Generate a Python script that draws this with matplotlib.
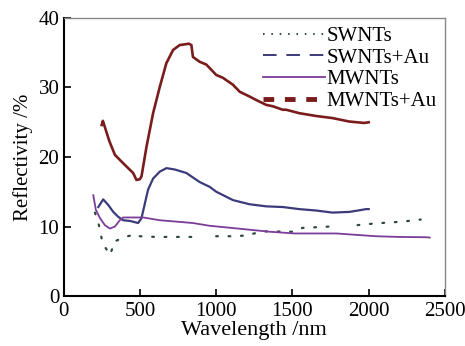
import numpy as np
from matplotlib import pyplot as plt
from matplotlib.lines import Line2D

plt.rcParams['font.family'] = ['Liberation Serif', 'DejaVu Serif']

# valores (nm, %)
mw_au_x = [250, 258, 300, 337, 391, 456, 478, 500, 511, 544, 587, 631, 674, 718, 761,
           822, 838, 848, 892, 936, 1001, 1044, 1110, 1154, 1219, 1263, 1328, 1371, 1437,
           1459, 1546, 1655, 1763, 1873, 1970, 2000]
mw_au_y = [24.6, 25.2, 22.3, 20.3, 19.1, 17.7, 16.7, 16.8, 17.2, 21.5, 26.3, 30.1, 33.5,
           35.4, 36.1, 36.3, 36.1, 34.4, 33.7, 33.3, 31.8, 31.4, 30.4, 29.4, 28.7, 28.2,
           27.5, 27.3, 26.8, 26.8, 26.3, 25.9, 25.6, 25.1, 24.9, 25.0]

sw_au_x = [228, 260, 293, 326, 358, 391, 435, 489, 511, 533, 554, 587, 631, 675, 729, 805,
           892, 958, 1001, 1110, 1219, 1328, 1437, 1546, 1655, 1763, 1873, 1930, 1982, 2000]
sw_au_y = [12.8, 13.9, 13.1, 12.1, 11.4, 10.9, 10.8, 10.5, 11.2, 13.3, 15.3, 16.9, 17.9,
           18.4, 18.2, 17.7, 16.4, 15.7, 15.0, 13.8, 13.2, 12.9, 12.8, 12.5, 12.3, 12.0,
           12.1, 12.3, 12.5, 12.5]

mw_x = [195, 212, 239, 271, 304, 337, 369, 391, 522, 631, 740, 848, 958, 1100, 1350,
        1513, 1786, 2047, 2200, 2384, 2400]
mw_y = [14.5, 12.4, 11.2, 10.2, 9.7, 10.0, 10.9, 11.3, 11.3, 10.9, 10.7, 10.5, 10.1, 9.8,
        9.25, 9.0, 9.0, 8.6, 8.5, 8.45, 8.4]

sw_x = [206, 228, 234, 256, 282, 304, 326, 330, 402, 478, 500, 600, 700, 850, np.nan,
        1000, 1100, 1200, 1300, 1513, 1566, 1753, np.nan, 1927, 2047, 2221, 2341]
sw_y = [12.0, 10.5, 10.0, 7.6, 6.7, 5.9, 7.2, 7.8, 8.5, 8.9, 8.6, 8.5, 8.5, 8.5, np.nan,
        8.6, 8.6, 8.7, 9.3, 9.25, 9.8, 10.0, np.nan, 10.2, 10.45, 10.7, 11.0]

c_sw = '#2d4a3c'
c_swau = '#3b3b7c'
c_mw = '#7b3c9a'
c_mwau = '#7a1c1c'

fig = plt.figure(figsize=(4.65, 3.46), dpi=100)
ax = fig.add_axes([0.1366, 0.1445, 0.8204, 0.8035])

ax.plot(sw_x, sw_y, color=c_sw, lw=1.6, dashes=(0.8, 4.8), dash_capstyle='round')
ax.plot(sw_au_x, sw_au_y, color=c_swau, lw=1.6)
ax.plot(mw_x, mw_y, color=c_mw, lw=1.3)
ax.plot(mw_au_x, mw_au_y, color=c_mwau, lw=1.9)

ax.set_xlim(0, 2500)
ax.set_ylim(0, 40)
ax.set_xticks([0, 500, 1000, 1500, 2000, 2500])
ax.set_yticks([0, 10, 20, 30, 40])
ax.tick_params(direction='in', length=5, width=1.2, labelsize=15, pad=3)
ax.tick_params(axis='x', pad=4)
ax.set_xlabel('Wavelength /nm', fontsize=16, labelpad=0.5)
ax.set_ylabel('Reflectivity /%', fontsize=15, labelpad=4)

for s in ['left', 'bottom']:
    ax.spines[s].set_linewidth(1.5)
    ax.spines[s].set_color('black')
for s in ['top', 'right']:
    ax.spines[s].set_linewidth(1.0)
    ax.spines[s].set_color('#888888')

handles = [
    Line2D([], [], color=c_sw, lw=1.4, dashes=(0.8, 3.5)),
    Line2D([], [], color=c_swau, lw=1.4, dashes=(7, 5)),
    Line2D([], [], color=c_mw, lw=1.3),
    Line2D([], [], color=c_mwau, lw=3.5, dashes=(2.2, 2.2)),
]
labels = ['SWNTs', 'SWNTs+Au', 'MWNTs', 'MWNTs+Au']
ax.legend(handles, labels, loc='upper right', bbox_to_anchor=(1.0, 1.0), frameon=False,
          fontsize=15, handlelength=3.0, handletextpad=0.05, labelspacing=0.1,
          borderaxespad=0.2, borderpad=0.2)

fig.savefig('out.png', dpi=100)
